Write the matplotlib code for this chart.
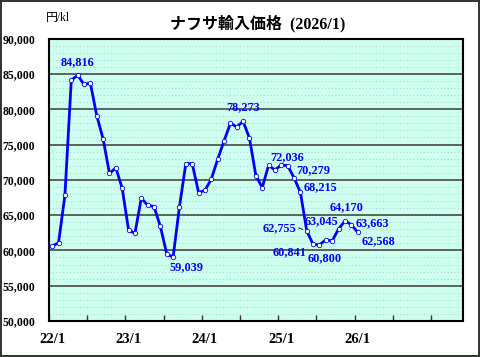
import matplotlib
matplotlib.use("Agg")
import matplotlib.pyplot as plt
import numpy as np
from matplotlib.ticker import FuncFormatter, MultipleLocator

matplotlib.rcParams['font.family'] = ['Liberation Serif', 'Noto Sans CJK JP']

# monthly naphtha import price, 22/1 .. 26/1 (yen/kl)
prices = [60600, 61100, 67800, 84100, 84816, 83500, 83700, 79100, 75800, 70900,
          71700, 68800, 62900, 62400, 67400, 66400, 66200, 63400, 59500, 59039,
          66200, 72300, 72300, 68200, 68500, 70100, 72900, 75500, 78000, 77500,
          78273, 75900, 70600, 68900, 72036, 71400, 72100, 72000, 70279, 68215,
          62755, 60841, 60800, 61500, 61350, 63045, 64170, 63663, 62568]
x_labels = ['22/1', '23/1', '24/1', '25/1', '26/1']
x_label_pos = [0, 12, 24, 36, 48]

# (index, dx px, dy px, ha)
labels = [
    (4, 0, 13, 'center'),
    (19, 13, -10, 'center'),
    (30, 0, 14, 'center'),
    (34, 2, 8, 'left'),
    (38, 2, 8, 'left'),
    (39, 3, 5, 'left'),
    (40, -10, 3, 'right'),
    (41, -7, -8, 'right'),
    (42, 5, -13, 'center'),
    (45, 0, 8, 'right'),
    (46, 2, 14, 'center'),
    (47, 4, 1, 'left'),
    (48, 4, -9, 'left'),
]

fig = plt.figure(figsize=(4.8, 3.57), dpi=100)
fig.patch.set_facecolor('white')
fig.patch.set_edgecolor('#303830')
fig.patch.set_linewidth(1.5)

ax = fig.add_axes([49/480, 1-321/357, (462.7-49)/480, (321-38.6)/357])
ax.set_facecolor('#ccffee')

x = np.arange(len(prices))
ax.set_xlim(-0.5, 64.5)
ax.set_ylim(50000, 90000)

# dotted minor lines and solid major lines
for v in range(51000, 90000, 1000):
    if v % 5000:
        ax.axhline(v, color='#bcc4dc', lw=0.7, ls=(0, (1, 2.5)), zorder=1)
ax.yaxis.set_major_locator(MultipleLocator(5000))
ax.grid(axis='y', color='#555555', lw=1.3, zorder=1)
ax.set_axisbelow(True)

ax.plot(x, prices, color='#0000ff', lw=2.0, zorder=3,
        marker='o', markersize=3.2, markerfacecolor='white',
        markeredgecolor='#0000ff', markeredgewidth=0.6)

for i, dx, dy, ha in labels:
    ax.annotate(f"{prices[i]:,}", (x[i], prices[i]), xytext=(dx, dy),
                textcoords='offset pixels', ha=ha, va='center',
                color='#0000ff', fontsize=8.8, fontweight='bold', zorder=4)
# leader dash next to 62,755
ax.annotate('', (x[40], prices[40]), xytext=(-8, 3), textcoords='offset pixels',
            arrowprops=dict(arrowstyle='-', color='#333333', lw=0.8,
                            shrinkA=0, shrinkB=3))

# x ticks every 6 months, labels at each January
ax.set_xticks(np.arange(-0.5, 64.5, 6))
ax.set_xticklabels([])
ax.tick_params(axis='x', direction='in', length=4, width=1, color='#333333')
for p, t in zip(x_label_pos, x_labels):
    ax.text(p, -0.065, t, transform=ax.get_xaxis_transform(), ha='center',
            va='center', fontsize=10.5, fontweight='bold')

ax.yaxis.set_major_formatter(FuncFormatter(lambda v, _: f"{int(v):,}"))
ax.tick_params(axis='y', length=0, pad=10, labelsize=8.5)
for lab in ax.get_yticklabels():
    lab.set_fontweight('bold')

for s in ax.spines.values():
    s.set_linewidth(1.5)
    s.set_color('black')

fig.text(258/480, 1-24/357, 'ナフサ輸入価格  (2026/1)', ha='center', va='center',
         fontsize=11.5, fontweight='bold')
fig.text(46/480, 1-18/357, '円/kl', ha='left', va='center', fontsize=8.5)

fig.savefig('out.png', dpi=100)
